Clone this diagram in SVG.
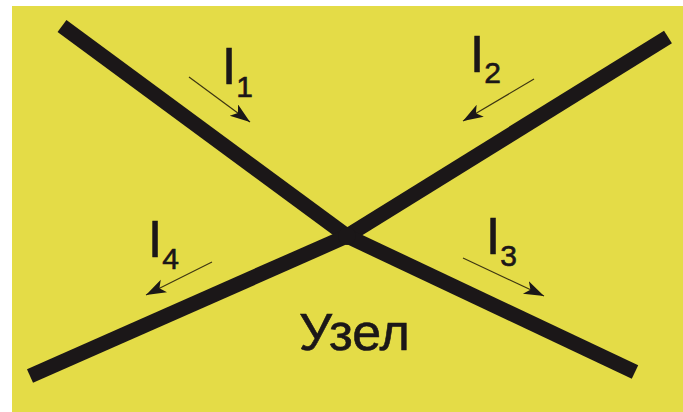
<svg xmlns="http://www.w3.org/2000/svg" width="683" height="412" viewBox="0 0 683 412">
<style>
.wire{stroke:#1b1718;stroke-width:15;stroke-linecap:butt;fill:none}
.cur{stroke:#3d3512;stroke-width:1.2;fill:none;marker-end:url(#ah)}
.lbl{font-family:"Liberation Sans",Arial,sans-serif;fill:#1b1718;stroke:#1b1718;stroke-width:0.6}
</style>
<defs>
<marker id="ah" markerUnits="userSpaceOnUse" markerWidth="22" markerHeight="16" refX="20" refY="7" orient="auto">
<path d="M0,0 L20,7 L0,14 L5,7 z" fill="#1b1718"/>
</marker>
</defs>
<rect x="0" y="0" width="683" height="412" fill="#ffffff"/>
<rect x="12" y="6" width="671" height="406" fill="#e4dc47"/>
<g id="connectors">
<line class="wire" x1="347" y1="236" x2="62" y2="26"/>
<line class="wire" x1="347" y1="236" x2="668" y2="37"/>
<line class="wire" x1="347" y1="236" x2="30" y2="376"/>
<line class="wire" x1="347" y1="236" x2="635" y2="372"/>
<line class="cur" x1="189" y1="77" x2="250" y2="122"/>
<line class="cur" x1="534" y1="79" x2="463" y2="121"/>
<line class="cur" x1="463" y1="258" x2="544" y2="296"/>
<line class="cur" x1="212" y1="262" x2="146" y2="295"/>
</g>
<g id="node">
<circle cx="347" cy="236" r="9" fill="#1b1718"/>
<text class="lbl" x="299" y="350" font-size="52">Узел</text>
</g>
<g id="I1"><text class="lbl" x="222" y="84" font-size="51">I<tspan font-size="30" dy="13">1</tspan></text></g>
<g id="I2"><text class="lbl" x="470" y="72" font-size="51">I<tspan font-size="30" dy="11">2</tspan></text></g>
<g id="I3"><text class="lbl" x="486" y="254" font-size="51">I<tspan font-size="30" dy="12">3</tspan></text></g>
<g id="I4"><text class="lbl" x="148" y="257" font-size="51">I<tspan font-size="30" dy="12">4</tspan></text></g>
</svg>
